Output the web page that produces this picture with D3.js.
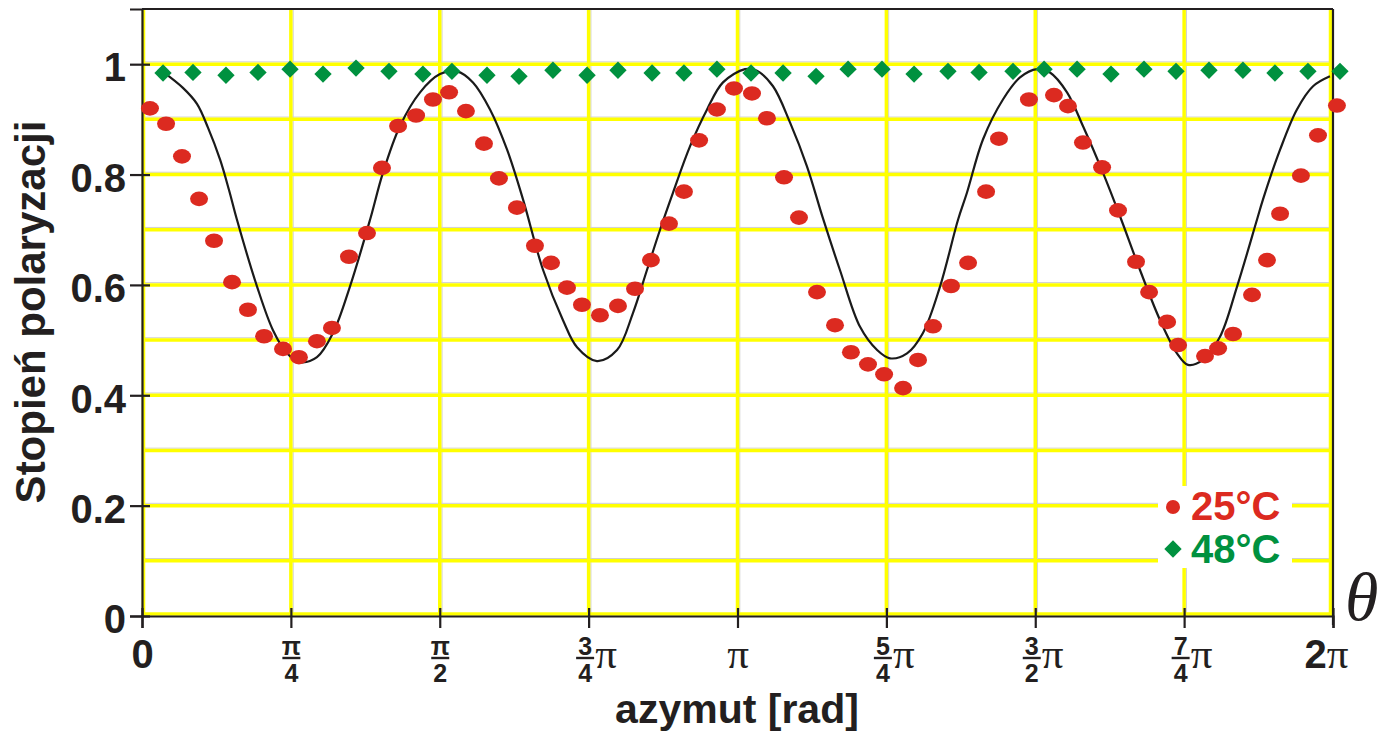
<!DOCTYPE html>
<html><head><meta charset="utf-8">
<script src="https://cdn.jsdelivr.net/npm/d3@7"></script>
<style>
body{margin:0;background:#fff;}
svg{display:block;}
</style></head><body>
<svg id="c" width="1383" height="734"></svg>
<script>
const PI = Math.PI;

// ---- data (azimuth in radians, degree of polarization) ----
const red25Theta = [0.042,0.127,0.211,0.301,0.380,0.475,0.559,0.644,0.744,0.828,
  0.923,1.002,1.092,1.187,1.266,1.351,1.446,1.535,1.620,1.709,
  1.804,1.883,1.978,2.073,2.158,2.242,2.321,2.416,2.511,2.601,
  2.685,2.780,2.859,2.939,3.033,3.123,3.218,3.297,3.387,3.466,
  3.561,3.656,3.740,3.830,3.915,4.015,4.094,4.173,4.268,4.358,
  4.453,4.521,4.679,4.811,4.885,4.964,5.065,5.149,5.244,5.313,
  5.408,5.466,5.608,5.677,5.756,5.856,5.935,6.004,6.114,6.204,6.304];
const red25Value = [0.920,0.892,0.833,0.756,0.680,0.605,0.555,0.507,0.484,0.469,
  0.498,0.522,0.651,0.694,0.812,0.888,0.907,0.936,0.949,0.915,
  0.856,0.793,0.740,0.671,0.640,0.595,0.564,0.545,0.562,0.593,
  0.645,0.711,0.769,0.862,0.918,0.956,0.947,0.902,0.795,0.722,
  0.587,0.527,0.478,0.456,0.438,0.413,0.464,0.525,0.598,0.640,
  0.769,0.865,0.936,0.944,0.924,0.858,0.813,0.735,0.642,0.587,
  0.533,0.491,0.471,0.485,0.511,0.582,0.645,0.729,0.798,0.871,0.925];

const green48Theta = [0.111,0.269,0.443,0.612,0.781,0.955,1.129,1.303,1.482,1.635,
  1.820,1.989,2.168,2.348,2.511,2.691,2.859,3.033,3.213,3.382,
  3.556,3.725,3.904,4.073,4.252,4.416,4.595,4.759,4.933,5.112,
  5.286,5.455,5.629,5.808,5.977,6.151,6.320];
const green48Value = [0.984,0.985,0.980,0.985,0.991,0.982,0.993,0.987,0.982,0.987,
  0.980,0.978,0.989,0.980,0.989,0.984,0.984,0.991,0.984,0.984,
  0.978,0.991,0.991,0.982,0.987,0.985,0.987,0.991,0.991,0.982,
  0.991,0.987,0.989,0.989,0.984,0.987,0.987];

// fitted curve
const fitTheta = [0.111,0.216,0.290,0.348,0.412,0.459,0.501,0.607,0.691,0.765,0.834,0.923,1.008,
  1.097,1.203,1.271,1.361,1.467,1.572,1.662,1.746,1.836,1.926,
  2.010,2.116,2.221,2.295,2.400,2.506,2.590,2.664,2.733,2.801,
  2.891,2.981,3.065,3.181,3.244,3.329,3.419,3.508,3.593,3.682,
  3.788,3.878,3.946,4.036,4.120,4.210,4.305,4.352,4.437,4.542,
  4.632,4.722,4.790,4.880,4.964,5.070,5.160,5.265,5.371,5.460,
  5.518,5.597,5.687,5.777,5.882,5.914,6.004,6.093,6.178,6.267];
const fitValue = [0.986,0.957,0.928,0.885,0.827,0.772,0.718,0.597,0.518,0.476,0.460,0.469,0.513,
  0.597,0.718,0.803,0.888,0.949,0.982,0.987,0.967,0.918,0.845,
  0.755,0.627,0.536,0.487,0.462,0.482,0.549,0.627,0.700,0.767,
  0.851,0.918,0.967,0.991,0.988,0.960,0.894,0.815,0.720,0.627,
  0.524,0.482,0.467,0.476,0.513,0.597,0.718,0.767,0.864,0.936,
  0.976,0.991,0.985,0.949,0.888,0.803,0.724,0.627,0.536,0.476,
  0.455,0.464,0.506,0.597,0.718,0.755,0.845,0.918,0.960,0.978];

const yTickValues = [0,0.2,0.4,0.6,0.8,1];
const yTickLabels = ["0","0.2","0.4","0.6","0.8","1"];
const xTickValues = [0,PI/4,PI/2,3*PI/4,PI,5*PI/4,3*PI/2,7*PI/4,2*PI];
const xTickWhole  = ["0","","","","","","","","2"];
const xTickNum    = ["","π","π","3","","5","3","7",""];
const xTickDen    = ["","4","2","4","","4","2","4",""];
const xTickPi     = [false,false,false,true,true,true,true,true,true];
const legendLabels = ["25°C","48°C"];
const yTitle = "Stopień polaryzacji";
const xTitle = "azymut [rad]";

// ---- drawing ----
const svg = d3.select("#c");
const L=142, R=1333, T=9, B=616;
const x = d3.scaleLinear().domain([0,2*PI]).range([L,R]);
const y = d3.scaleLinear().domain([0,1.1]).range([B,T]);
const RED="#dc2a20", GREEN="#00913f", INK="#231f20";
const SANS="'Liberation Sans', Arial, Helvetica, sans-serif";
const SERIF="'Liberation Serif', 'Times New Roman', serif";

// grid
const gridY = d3.range(0,11).map(i=>i/10);
const grid = svg.append("g");
grid.selectAll(".hs").data(gridY.filter(d=>d>0)).join("line")
  .attr("x1",L).attr("x2",R).attr("y1",d=>y(d)-2.3).attr("y2",d=>y(d)-2.3)
  .attr("stroke","#cfcfcf").attr("stroke-width",1);
grid.selectAll(".vs").data(xTickValues.filter(d=>d>0 && d<2*PI)).join("line")
  .attr("y1",T).attr("y2",B).attr("x1",d=>x(d)+2.3).attr("x2",d=>x(d)+2.3)
  .attr("stroke","#cfcfcf").attr("stroke-width",1);
grid.selectAll(".h").data(gridY).join("line")
  .attr("x1",L).attr("x2",R)
  .attr("y1",d=>d===0?y(d)-2:y(d)).attr("y2",d=>d===0?y(d)-2:y(d))
  .attr("stroke","#ffff00").attr("stroke-width",3.5);
grid.selectAll(".v").data(xTickValues).join("line")
  .attr("y1",T).attr("y2",B)
  .attr("x1",d=>d===2*PI?x(d)-2.5:(d===0?x(d)+1.5:x(d)))
  .attr("x2",d=>d===2*PI?x(d)-2.5:(d===0?x(d)+1.5:x(d)))
  .attr("stroke","#ffff00").attr("stroke-width",3.5);

// legend background
svg.append("rect").attr("x",1158).attr("y",486).attr("width",134).attr("height",82).attr("fill","#fff");

// frame (top and right)
svg.append("line").attr("x1",L).attr("x2",R).attr("y1",T).attr("y2",T).attr("stroke",INK).attr("stroke-width",2.2);
svg.append("line").attr("x1",R).attr("x2",R).attr("y1",T).attr("y2",B+9).attr("stroke",INK).attr("stroke-width",2.2);

// y axis
const yAxis = svg.append("g").attr("transform",`translate(${L},0)`)
  .call(d3.axisLeft(y).tickValues(yTickValues).tickSizeOuter(0).tickSize(12)
        .tickFormat((d,i)=>yTickLabels[i]));
yAxis.select(".domain").attr("stroke",INK).attr("stroke-width",2.2);
yAxis.selectAll(".tick line").attr("x1",8).attr("x2",-12).attr("stroke",INK).attr("stroke-width",2.2);
yAxis.selectAll(".tick text").attr("x",-16).attr("dy","0.42em")
  .attr("font-family",SANS).attr("font-weight","bold").attr("font-size",40).attr("fill",INK);

// x axis
const xAxis = svg.append("g").attr("transform",`translate(0,${B})`)
  .call(d3.axisBottom(x).tickValues(xTickValues).tickSizeOuter(0).tickSize(12).tickFormat(""));
xAxis.select(".domain").attr("stroke",INK).attr("stroke-width",2.2);
xAxis.selectAll(".tick line").attr("y1",-8).attr("y2",12).attr("stroke",INK).attr("stroke-width",2.2);
xAxis.selectAll(".tick").each(function(d,i){
  const g = d3.select(this);
  if (xTickWhole[i]) {
    const t = g.append("text").attr("y",52).attr("text-anchor","middle").attr("fill",INK)
      .attr("x", xTickPi[i] ? -7 : 0);
    t.append("tspan").attr("font-family",SANS).attr("font-weight","bold").attr("font-size",40).text(xTickWhole[i]);
    if (xTickPi[i]) t.append("tspan").attr("font-family",SERIF).attr("font-size",43).text("π");
  } else if (xTickNum[i]) {
    const fx = xTickPi[i] ? -4 : 0;
    g.append("text").attr("x",fx).attr("y",39).attr("text-anchor","middle")
      .attr("font-family",SANS).attr("font-weight","bold").attr("font-size",25).attr("fill",INK).text(xTickNum[i]);
    g.append("line").attr("x1",fx-9).attr("x2",fx+9).attr("y1",42).attr("y2",42).attr("stroke",INK).attr("stroke-width",2.4);
    g.append("text").attr("x",fx).attr("y",66).attr("text-anchor","middle")
      .attr("font-family",SANS).attr("font-weight","bold").attr("font-size",25).attr("fill",INK).text(xTickDen[i]);
    if (xTickPi[i]) g.append("text").attr("x",fx+10).attr("y",52).attr("text-anchor","start")
      .attr("font-family",SERIF).attr("font-size",43).attr("fill",INK).text("π");
  } else if (xTickPi[i]) {
    g.append("text").attr("x",0).attr("y",52).attr("text-anchor","middle")
      .attr("font-family",SERIF).attr("font-size",43).attr("fill",INK).text("π");
  }
});

// fitted curve
const fitData = fitTheta.map((t,i)=>[t,fitValue[i]]);
svg.append("path").datum(fitData)
  .attr("d", d3.line().x(d=>x(d[0])).y(d=>y(d[1])).curve(d3.curveCatmullRom.alpha(0.5)))
  .attr("fill","none").attr("stroke","#1a1a1a").attr("stroke-width",2.2);

// 25°C points
const redData = red25Theta.map((t,i)=>[t,red25Value[i]]);
svg.append("g").selectAll("ellipse").data(redData).join("ellipse")
  .attr("cx",d=>x(d[0])).attr("cy",d=>y(d[1])).attr("rx",9).attr("ry",7.3).attr("fill",RED);

// 48°C points
const greenData = green48Theta.map((t,i)=>[t,green48Value[i]]);
const diamond = d3.symbol().type(d3.symbolSquare).size(150);
svg.append("g").selectAll("path").data(greenData).join("path")
  .attr("d",diamond)
  .attr("transform",d=>`translate(${x(d[0])},${y(d[1])}) rotate(45)`)
  .attr("fill",GREEN);

// legend
svg.append("circle").attr("cx",1173).attr("cy",507).attr("r",7).attr("fill",RED);
svg.append("text").attr("x",1191).attr("y",520).attr("font-family",SANS).attr("font-weight","bold")
  .attr("font-size",40).attr("fill",RED).text(legendLabels[0]);
svg.append("path").attr("d",d3.symbol().type(d3.symbolSquare).size(150)())
  .attr("transform","translate(1173,549) rotate(45)").attr("fill",GREEN);
svg.append("text").attr("x",1191).attr("y",563).attr("font-family",SANS).attr("font-weight","bold")
  .attr("font-size",40).attr("fill",GREEN).text(legendLabels[1]);

// titles
svg.append("text").attr("transform","translate(45,312) rotate(-90)").attr("text-anchor","middle")
  .attr("font-family",SANS).attr("font-weight","bold").attr("font-size",42).attr("fill",INK).text(yTitle);
svg.append("text").attr("x",737).attr("y",723).attr("text-anchor","middle")
  .attr("font-family",SANS).attr("font-weight","bold").attr("font-size",41).attr("fill",INK).text(xTitle);
svg.append("text").attr("x",1345).attr("y",620).attr("font-family",SERIF).attr("font-style","italic")
  .attr("font-size",68).attr("fill",INK).text("θ");
</script>
</body></html>
